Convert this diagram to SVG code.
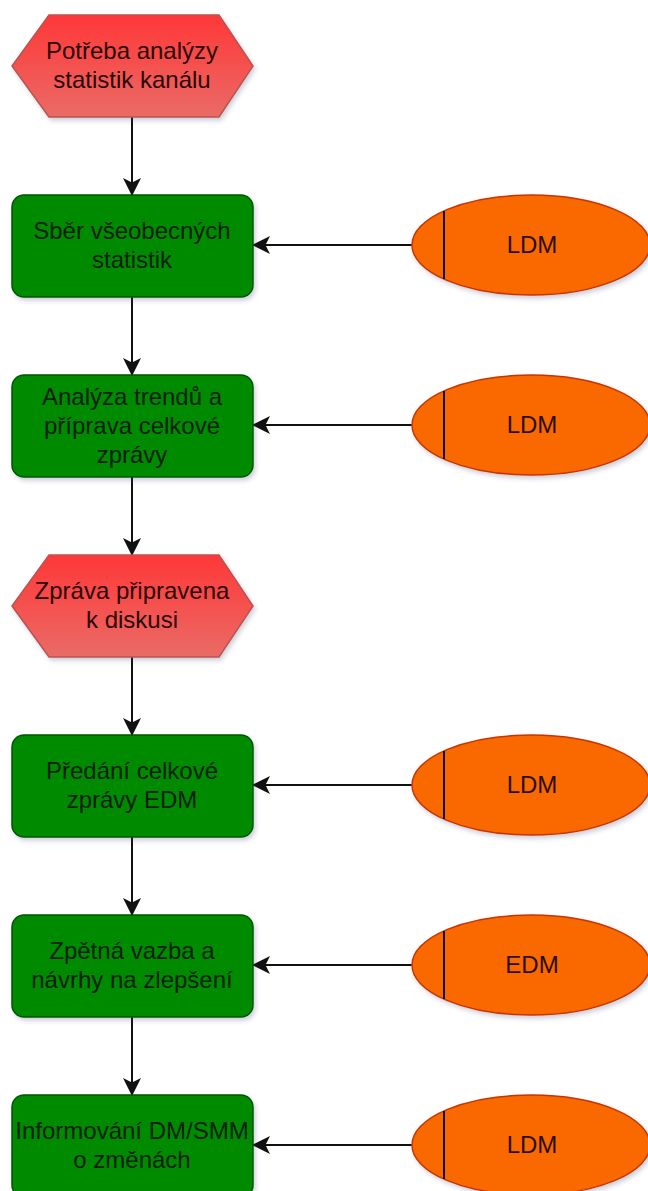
<svg xmlns="http://www.w3.org/2000/svg" width="648" height="1191" viewBox="0 0 648 1191">
<defs>
<linearGradient id="redGrad" x1="0" y1="0" x2="0" y2="1">
<stop offset="0" stop-color="#ff3838"/>
<stop offset="1" stop-color="#ea6b66"/>
</linearGradient>
<filter id="shadow" x="-10%" y="-10%" width="125%" height="130%">
<feDropShadow dx="2" dy="3" stdDeviation="2" flood-color="#404a70" flood-opacity="0.25"/>
</filter>
<marker id="arrow" markerUnits="userSpaceOnUse" viewBox="0 0 18 18" refX="17" refY="9" markerWidth="18" markerHeight="18" orient="auto">
<path d="M0,0 L18,9 L0,18 L4.5,9 Z" fill="#111"/>
</marker>
<style>
.hex{fill:url(#redGrad);stroke:#b85450;stroke-width:1.5;filter:url(#shadow)}
.box{fill:#008a00;stroke:#005700;stroke-width:1.5;filter:url(#shadow)}
.ell{fill:#fa6800;stroke:#c73500;stroke-width:1.5;filter:url(#shadow)}
.bar{stroke:#111;stroke-width:2}
.t{font-family:"Liberation Sans",Arial,sans-serif;font-size:24px;text-anchor:middle}
.th{fill:#2a0505}
.tb{fill:#0a1f0a}
.te{fill:#2a0e00}
.c{stroke:#111;stroke-width:2;fill:none;marker-end:url(#arrow)}
</style>
</defs>

<g id="connectors">
<line class="c" x1="132" y1="117" x2="132" y2="195"/>
<line class="c" x1="132" y1="297" x2="132" y2="375"/>
<line class="c" x1="132" y1="477" x2="132" y2="555"/>
<line class="c" x1="132" y1="657" x2="132" y2="735"/>
<line class="c" x1="132" y1="837" x2="132" y2="915"/>
<line class="c" x1="132" y1="1017" x2="132" y2="1095"/>
<line class="c" x1="412" y1="245" x2="253" y2="245"/>
<line class="c" x1="412" y1="425" x2="253" y2="425"/>
<line class="c" x1="412" y1="785" x2="253" y2="785"/>
<line class="c" x1="412" y1="965" x2="253" y2="965"/>
<line class="c" x1="412" y1="1145" x2="253" y2="1145"/>
</g>

<g id="event1">
<polygon class="hex" points="12,66 49,15 219,15 253,66 219,117 49,117"/>
<text class="t th" x="132" y="59">Potřeba analýzy</text>
<text class="t th" x="132" y="88">statistik kanálu</text>
</g>

<g id="task1">
<rect class="box" x="12" y="195" width="241" height="102" rx="12"/>
<text class="t tb" x="132" y="239">Sběr všeobecných</text>
<text class="t tb" x="132" y="268">statistik</text>
</g>
<g id="role1">
<ellipse class="ell" cx="531" cy="245" rx="119" ry="50"/>
<line class="bar" x1="444" y1="211" x2="444" y2="279"/>
<text class="t te" x="532" y="253">LDM</text>
</g>

<g id="task2">
<rect class="box" x="12" y="375" width="241" height="102" rx="12"/>
<text class="t tb" x="132" y="405">Analýza trendů a</text>
<text class="t tb" x="132" y="434">příprava celkové</text>
<text class="t tb" x="132" y="463">zprávy</text>
</g>
<g id="role2">
<ellipse class="ell" cx="531" cy="425" rx="119" ry="50"/>
<line class="bar" x1="444" y1="391" x2="444" y2="459"/>
<text class="t te" x="532" y="433">LDM</text>
</g>

<g id="event2">
<polygon class="hex" points="12,606 49,555 219,555 253,606 219,657 49,657"/>
<text class="t th" x="132" y="599">Zpráva připravena</text>
<text class="t th" x="132" y="628">k diskusi</text>
</g>

<g id="task3">
<rect class="box" x="12" y="735" width="241" height="102" rx="12"/>
<text class="t tb" x="132" y="779">Předání celkové</text>
<text class="t tb" x="132" y="808">zprávy EDM</text>
</g>
<g id="role3">
<ellipse class="ell" cx="531" cy="785" rx="119" ry="50"/>
<line class="bar" x1="444" y1="751" x2="444" y2="819"/>
<text class="t te" x="532" y="793">LDM</text>
</g>

<g id="task4">
<rect class="box" x="12" y="915" width="241" height="102" rx="12"/>
<text class="t tb" x="132" y="959">Zpětná vazba a</text>
<text class="t tb" x="132" y="988">návrhy na zlepšení</text>
</g>
<g id="role4">
<ellipse class="ell" cx="531" cy="965" rx="119" ry="50"/>
<line class="bar" x1="444" y1="931" x2="444" y2="999"/>
<text class="t te" x="532" y="973">EDM</text>
</g>

<g id="task5">
<rect class="box" x="12" y="1095" width="241" height="102" rx="12"/>
<text class="t tb" x="132" y="1139">Informování DM/SMM</text>
<text class="t tb" x="132" y="1168">o změnách</text>
</g>
<g id="role5">
<ellipse class="ell" cx="531" cy="1145" rx="119" ry="50"/>
<line class="bar" x1="444" y1="1111" x2="444" y2="1179"/>
<text class="t te" x="532" y="1153">LDM</text>
</g>
</svg>
